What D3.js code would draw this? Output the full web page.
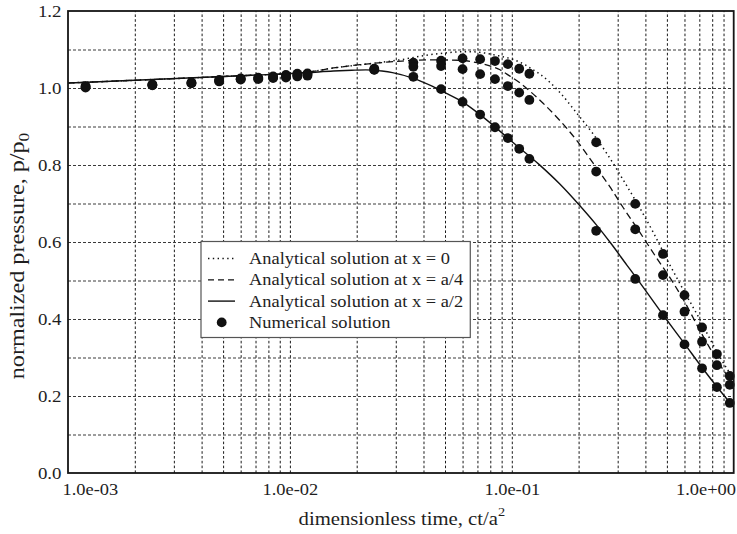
<!DOCTYPE html>
<html>
<head>
<meta charset="utf-8">
<script src="https://cdn.jsdelivr.net/npm/d3@7"></script>
<style>
  body { margin: 0; background: #fff; }
  svg text { font-family: "Liberation Serif", "Times New Roman", serif; fill: #1e1e1e; }
</style>
</head>
<body>
<svg id="chart" width="737" height="534"></svg>
<script>
// ---- numerical solution (three monitoring points, same output times) ----
const numTimes = [0.0012, 0.0024, 0.0036, 0.0048, 0.006, 0.0072, 0.0084, 0.0096, 0.0108, 0.012,
                  0.024, 0.036, 0.048, 0.06, 0.072, 0.084, 0.096, 0.108, 0.12,
                  0.24, 0.36, 0.48, 0.6, 0.72, 0.84, 0.96];
const numAtX0 = [1.005, 1.009, 1.014, 1.021, 1.025, 1.027, 1.030, 1.034, 1.037, 1.038,
                 1.050, 1.066, 1.071, 1.077, 1.075, 1.070, 1.062, 1.050, 1.037,
                 0.859, 0.699, 0.569, 0.462, 0.378, 0.309, 0.252];
const numAtA4 = [1.003, 1.008, 1.013, 1.019, 1.023, 1.025, 1.028, 1.030, 1.033, 1.035,
                 1.048, 1.055, 1.057, 1.049, 1.036, 1.023, 1.005, 0.988, 0.969,
                 0.783, 0.633, 0.514, 0.419, 0.341, 0.280, 0.229];
const numAtA2 = [1.001, 1.007, 1.012, 1.017, 1.022, 1.023, 1.026, 1.027, 1.030, 1.032,
                 1.047, 1.029, 0.997, 0.964, 0.931, 0.898, 0.870, 0.842, 0.816,
                 0.629, 0.504, 0.410, 0.334, 0.272, 0.223, 0.182];

// ---- analytical solution, sampled along each curve ----
const anaX0Times = [0.001, 0.0024, 0.006, 0.012, 0.0157, 0.022, 0.032, 0.041, 0.05, 0.058, 0.067, 0.077,
                    0.088, 0.1015, 0.115, 0.125, 0.134, 0.165, 0.196, 0.233, 0.268, 0.318, 0.365,
                    0.434, 0.516, 0.614, 0.705, 0.809, 0.93, 1.0];
const anaX0Vals  = [1.013, 1.022, 1.032, 1.041, 1.052, 1.062, 1.074, 1.085, 1.091, 1.094, 1.094, 1.090,
                    1.083, 1.074, 1.060, 1.047, 1.036, 0.988, 0.935, 0.880, 0.830, 0.761, 0.703,
                    0.625, 0.540, 0.460, 0.398, 0.332, 0.272, 0.245];
const anaA4Times = [0.001, 0.0024, 0.006, 0.012, 0.0157, 0.022, 0.032, 0.044, 0.058, 0.072, 0.082, 0.088,
                    0.095, 0.109, 0.12, 0.138, 0.165, 0.196, 0.233, 0.277, 0.318, 0.365, 0.45,
                    0.534, 0.6, 0.72, 0.84, 0.93, 1.0];
const anaA4Vals  = [1.013, 1.022, 1.032, 1.041, 1.052, 1.062, 1.070, 1.073, 1.072, 1.064, 1.055, 1.048,
                    1.036, 1.013, 0.993, 0.961, 0.915, 0.864, 0.804, 0.743, 0.689, 0.638, 0.558,
                    0.494, 0.445, 0.360, 0.294, 0.255, 0.232];
const anaA2Times = [0.001, 0.0024, 0.006, 0.012, 0.0157, 0.019, 0.022, 0.026, 0.029, 0.036, 0.044, 0.05,
                    0.06, 0.07, 0.084, 0.1, 0.133, 0.165, 0.2, 0.24, 0.28, 0.33, 0.365, 0.48, 0.6,
                    0.72, 0.84, 1.0];
const anaA2Vals  = [1.013, 1.022, 1.032, 1.040, 1.044, 1.046, 1.047, 1.044, 1.040, 1.025, 1.004, 0.988,
                    0.964, 0.936, 0.899, 0.861, 0.801, 0.750, 0.698, 0.645, 0.596, 0.540, 0.506,
                    0.411, 0.336, 0.274, 0.224, 0.171];

// ---- axes ----
const xTickValues = [1e-3, 1e-2, 1e-1, 1];
const xTickLabels = ["1.0e-03", "1.0e-02", "1.0e-01", "1.0e+00"];
const yTickValues = [0, 0.2, 0.4, 0.6, 0.8, 1.0, 1.2];
const yTickLabels = ["0.0", "0.2", "0.4", "0.6", "0.8", "1.0", "1.2"];
const yGridValues = [0.1, 0.2, 0.3, 0.4, 0.5, 0.6, 0.7, 0.8, 0.9, 1.0, 1.1];

const legendLabels = [
  "Analytical solution at x = 0",
  "Analytical solution at x = a/4",
  "Analytical solution at x = a/2",
  "Numerical solution"
];

// ---- layout ----
const plot = { left: 68, right: 733.7, top: 11, bottom: 473 };
const STRETCH = 1.15;   // text is set slightly wide

const x = d3.scaleLog().domain([1e-3, 1]).range([plot.left, plot.right]);
const y = d3.scaleLinear().domain([0, 1.2]).range([plot.bottom, plot.top]);

const svg = d3.select("#chart");

function widen(sel, k) {
  sel.each(function () {
    const t = d3.select(this);
    const x0 = +t.attr("x") || 0, y0 = +t.attr("y") || 0;
    t.attr("x", null).attr("y", null)
     .attr("transform", `translate(${x0},${y0}) scale(${k},1)`);
  });
}

// grid lines
const xGrid = x.ticks().filter(t => t > 1.0001e-3 && t < 0.9999);
const gx = svg.append("g")
  .attr("transform", `translate(0,${plot.bottom})`)
  .call(d3.axisBottom(x).tickValues(xGrid).tickFormat("")
        .tickSize(-(plot.bottom - plot.top)));
gx.select(".domain").remove();
gx.selectAll("line").attr("stroke", "#1a1a1a").attr("stroke-width", 1)
  .attr("stroke-dasharray", "2.6,2.2");

const gy = svg.append("g")
  .attr("transform", `translate(${plot.left},0)`)
  .call(d3.axisLeft(y).tickValues(yGridValues).tickFormat("")
        .tickSize(-(plot.right - plot.left)));
gy.select(".domain").remove();
gy.selectAll("line").attr("stroke", "#3a3a3a").attr("stroke-width", 1)
  .attr("stroke-dasharray", "3,2");

// analytical curves
const line = d3.line().x(d => x(d[0])).y(d => y(d[1])).curve(d3.curveMonotoneX);
const curves = [
  { t: anaX0Times, v: anaX0Vals, dash: "1.4,3.4", w: 1.5 },
  { t: anaA4Times, v: anaA4Vals, dash: "7,4",     w: 1.3 },
  { t: anaA2Times, v: anaA2Vals, dash: null,      w: 1.4 }
];
curves.forEach(c => {
  svg.append("path")
    .datum(d3.zip(c.t, c.v))
    .attr("d", line)
    .attr("fill", "none")
    .attr("stroke", "#111")
    .attr("stroke-width", c.w)
    .attr("stroke-dasharray", c.dash);
});

// numerical points
[numAtX0, numAtA4, numAtA2].forEach(vals => {
  svg.append("g").selectAll("circle")
    .data(d3.zip(numTimes, vals))
    .join("circle")
    .attr("cx", d => x(d[0]))
    .attr("cy", d => y(d[1]))
    .attr("r", 4.9)
    .attr("fill", "#111");
});

// legend
const lg = svg.append("g");
const lgBox = lg.append("rect")
  .attr("x", 201).attr("y", 241.5).attr("height", 96)
  .attr("fill", "#fff").attr("stroke", "#555").attr("stroke-width", 1.2);
const rowY = i => 258.5 + i * 21.3;
const sampleX0 = 208, sampleX1 = 235, textX = 249;
[["1.4,3.4", 1.5], ["6,4", 1.3], [null, 1.4]].forEach((s, i) => {
  lg.append("line")
    .attr("x1", sampleX0).attr("x2", sampleX1)
    .attr("y1", rowY(i)).attr("y2", rowY(i))
    .attr("stroke", "#111").attr("stroke-width", s[1])
    .attr("stroke-dasharray", s[0]);
});
lg.append("circle").attr("cx", 221.7).attr("cy", rowY(3)).attr("r", 4.9).attr("fill", "#111");
const lgText = lg.selectAll("text.lab")
  .data(legendLabels)
  .join("text")
  .attr("class", "lab")
  .attr("x", textX)
  .attr("y", (d, i) => rowY(i) + 5.5)
  .attr("font-size", 16)
  .text(d => d);
let maxEnd = 0;
lgText.each(function () {
  maxEnd = Math.max(maxEnd, textX + this.getComputedTextLength() * STRETCH);
});
widen(lgText, STRETCH);
lgBox.attr("width", maxEnd + 7 - 201);

// frame
svg.append("rect")
  .attr("x", plot.left).attr("y", plot.top)
  .attr("width", plot.right - plot.left).attr("height", plot.bottom - plot.top)
  .attr("fill", "none").attr("stroke", "#151515").attr("stroke-width", 1.8);

// tick labels
const ax = svg.append("g")
  .attr("transform", `translate(0,${plot.bottom})`)
  .call(d3.axisBottom(x).tickValues(xTickValues)
        .tickFormat((d, i) => xTickLabels[i]).tickSize(0));
ax.select(".domain").remove();
ax.selectAll("text")
  .attr("font-size", 16).attr("font-family", null).attr("fill", "#1e1e1e")
  .attr("dy", 0).attr("y", 22)
  .attr("x", (d, i) => i === 0 ? -6 : (i === xTickValues.length - 1 ? 1.8 : 0))
  .attr("text-anchor", (d, i) => i === 0 ? "start" : (i === xTickValues.length - 1 ? "end" : "middle"));
widen(ax.selectAll("text"), STRETCH);

const ay = svg.append("g")
  .attr("transform", `translate(${plot.left},0)`)
  .call(d3.axisLeft(y).tickValues(yTickValues)
        .tickFormat((d, i) => yTickLabels[i]).tickSize(0).tickPadding(6.5));
ay.select(".domain").remove();
ay.selectAll("text")
  .attr("font-size", 16).attr("font-family", null).attr("fill", "#1e1e1e")
  .attr("dy", "0.34em");
widen(ay.selectAll("text"), 1.18);

// axis titles
const xt = svg.append("text")
  .attr("text-anchor", "middle")
  .attr("font-size", 18)
  .attr("transform", `translate(${(plot.left + plot.right) / 2 + 1},524.5) scale(${STRETCH},1)`);
xt.append("tspan").text("dimensionless time, ct/a");
xt.append("tspan").attr("font-size", 12.5).attr("dy", -8.5).text("2");

const yt = svg.append("text")
  .attr("text-anchor", "middle")
  .attr("font-size", 21)
  .attr("transform", `translate(24,256) rotate(-90) scale(${STRETCH},1)`);
yt.append("tspan").text("normalized pressure, p/p");
yt.append("tspan").attr("font-size", 15).attr("dy", 4.5).text("0");
</script>
</body>
</html>
